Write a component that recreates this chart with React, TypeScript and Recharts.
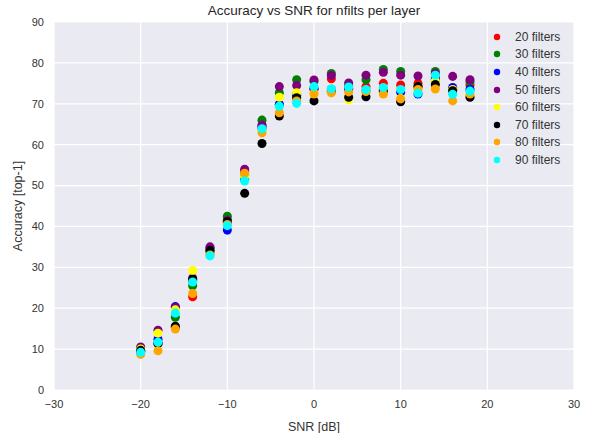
import React from "react";
import {
  ScatterChart,
  Scatter,
  XAxis,
  YAxis,
  ZAxis,
  CartesianGrid,
} from "recharts";

const SNR = [-20, -18, -16, -14, -12, -10, -8, -6, -4, -2, 0, 2, 4, 6, 8, 10, 12, 14, 16, 18];

const F20 = [9.5, 11.5, 15.3, 22.8, 33.5, 41.0, 53.5, 64.0, 69.8, 72.4, 73.5, 76.1, 73.8, 74.2, 75.0, 74.6, 75.0, 76.5, 73.6, 74.6];
const F30 = [9.5, 11.3, 17.8, 25.5, 34.0, 42.5, 52.5, 66.0, 72.7, 75.9, 75.5, 77.4, 74.5, 75.9, 78.4, 77.9, 74.3, 77.9, 73.5, 75.4];
const F40 = [9.3, 12.4, 20.4, 26.7, 34.7, 39.1, 51.5, 64.5, 69.9, 72.0, 73.8, 73.5, 73.5, 73.2, 73.5, 72.8, 72.4, 76.0, 74.0, 73.5];
const F50 = [10.5, 14.6, 20.2, 27.4, 35.0, 41.5, 54.0, 64.8, 74.2, 74.5, 75.8, 76.9, 75.1, 77.0, 77.7, 77.0, 76.8, 77.4, 76.7, 75.9];
const F60 = [10.0, 13.9, 19.6, 29.2, 33.2, 41.0, 52.3, 63.5, 71.6, 72.7, 72.5, 73.5, 71.0, 73.0, 73.5, 71.3, 73.5, 75.6, 73.5, 72.1];
const F70 = [9.7, 11.4, 15.6, 27.1, 34.2, 41.2, 48.1, 60.3, 67.0, 71.5, 70.7, 73.0, 71.6, 71.7, 73.0, 70.5, 74.2, 74.7, 73.2, 71.6];
const F80 = [8.7, 9.6, 14.9, 23.6, 33.0, 40.5, 53.0, 62.9, 67.8, 70.7, 72.4, 72.7, 72.9, 73.0, 72.4, 71.2, 73.5, 73.6, 70.7, 72.4];
const F90 = [9.2, 11.7, 18.8, 26.4, 32.8, 40.2, 51.1, 63.9, 69.4, 70.1, 74.2, 73.7, 74.1, 73.5, 74.0, 73.5, 72.6, 77.0, 72.3, 73.1];

const SERIES_NAMES = ["20 filters", "30 filters", "40 filters", "50 filters", "60 filters", "70 filters", "80 filters", "90 filters"];
const SERIES_VALUES = [F20, F30, F40, F50, F60, F70, F80, F90];
const SERIES_COLORS = ["#ff0000", "#008000", "#0000ff", "#800080", "#ffff00", "#000000", "#ffa500", "#00ffff"];

const X_TICKS = [-30, -20, -10, 0, 10, 20, 30];
const Y_TICKS = [0, 10, 20, 30, 40, 50, 60, 70, 80, 90];

const TITLE = "Accuracy vs SNR for nfilts per layer";
const X_LABEL = "SNR [dB]";
const Y_LABEL = "Accuracy [top-1]";

const FONT = "'Liberation Sans', Arial, sans-serif";
const TEXT = "#333333";

const series = SERIES_NAMES.map((name, i) => ({
  name,
  color: SERIES_COLORS[i],
  data: SNR.map((snr, j) => ({ snr, acc: SERIES_VALUES[i][j] })),
}));

const LegendBox = () => (
  <div style={{ position: "absolute", top: 28, left: 493, fontFamily: FONT, fontSize: 12, color: TEXT }}>
    {series.map((s) => (
      <div key={s.name} style={{ display: "flex", alignItems: "center", height: 17.6 }}>
        <svg width={8} height={8} style={{ marginRight: 14 }}>
          <circle cx={4} cy={4} r={3.2} fill={s.color} />
        </svg>
        <span>{s.name}</span>
      </div>
    ))}
  </div>
);

export default function App() {
  return (
    <div style={{ position: "absolute", left: 0, top: 0, width: 590, height: 433, background: "#fff", fontFamily: FONT }}>
      <ScatterChart width={590} height={433} margin={{ top: 22, right: 16, bottom: 0, left: 0 }}>
        <CartesianGrid fill="#eaeaf2" stroke="#ffffff" strokeWidth={1.2} horizontalValues={Y_TICKS} verticalValues={X_TICKS} />
        <XAxis
          type="number"
          dataKey="snr"
          domain={[-30, 30]}
          ticks={X_TICKS}
          axisLine={false}
          tickLine={false}
          tickMargin={4}
          height={43}
          tick={{ fill: TEXT, fontSize: 11, fontFamily: FONT }}
          tickFormatter={(v: number) => (v < 0 ? "\u2212" + Math.abs(v) : String(v))}
          label={{ value: X_LABEL, position: "insideBottom", offset: 2, fill: TEXT, fontSize: 12.5, fontFamily: FONT }}
        />
        <YAxis
          type="number"
          dataKey="acc"
          domain={[0, 90]}
          ticks={Y_TICKS}
          axisLine={false}
          tickLine={false}
          tickMargin={4}
          width={54}
          tick={{ fill: TEXT, fontSize: 11, fontFamily: FONT }}
          label={{ value: Y_LABEL, angle: -90, position: "insideLeft", offset: 18, fill: TEXT, fontSize: 12.5, fontFamily: FONT, style: { textAnchor: "middle" } }}
        />
        <ZAxis range={[36, 36]} />
        {series.map((s) => (
          <Scatter key={s.name} name={s.name} data={s.data} fill={s.color} isAnimationActive={false} />
        ))}
      </ScatterChart>
      <div
        style={{
          position: "absolute",
          top: 3,
          left: 54,
          width: 520,
          textAlign: "center",
          fontSize: 13.5,
          color: "#262626",
        }}
      >
        {TITLE}
      </div>
      <LegendBox />
    </div>
  );
}
